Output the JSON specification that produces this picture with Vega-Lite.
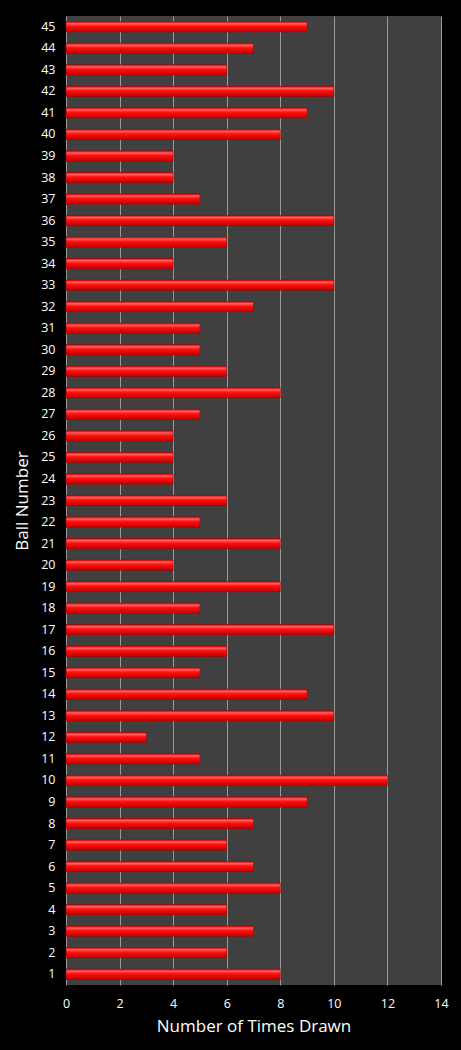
{
  "$schema": "https://vega.github.io/schema/vega-lite/v6.json",
  "autosize": {"type": "none"},
  "padding": {"left": 66, "top": 16, "right": 20, "bottom": 65},
  "width": 375,
  "height": 969,
  "background": "#000000",
  "config": {
    "font": "Open Sans",
    "view": {"fill": "#404040", "stroke": null},
    "axisX": {
      "grid": true,
      "gridColor": "#9a9a9a",
      "gridWidth": 1,
      "domain": false,
      "ticks": false,
      "labelColor": "#ffffff",
      "labelFontSize": 12.5,
      "labelPadding": 12,
      "labelFlush": false,
      "titleColor": "#ffffff",
      "titleFontSize": 17,
      "titleFontWeight": "normal",
      "titlePadding": 9
    },
    "axisY": {
      "grid": false,
      "domain": false,
      "ticks": false,
      "labelColor": "#ffffff",
      "labelFontSize": 12.5,
      "labelPadding": 11,
      "titleColor": "#ffffff",
      "titleFontSize": 17,
      "titleFontWeight": "normal",
      "titlePadding": 9
    }
  },
  "data": {
    "values": [
      {"ball": 1, "times": 8}, {"ball": 2, "times": 6}, {"ball": 3, "times": 7},
      {"ball": 4, "times": 6}, {"ball": 5, "times": 8}, {"ball": 6, "times": 7},
      {"ball": 7, "times": 6}, {"ball": 8, "times": 7}, {"ball": 9, "times": 9},
      {"ball": 10, "times": 12}, {"ball": 11, "times": 5}, {"ball": 12, "times": 3},
      {"ball": 13, "times": 10}, {"ball": 14, "times": 9}, {"ball": 15, "times": 5},
      {"ball": 16, "times": 6}, {"ball": 17, "times": 10}, {"ball": 18, "times": 5},
      {"ball": 19, "times": 8}, {"ball": 20, "times": 4}, {"ball": 21, "times": 8},
      {"ball": 22, "times": 5}, {"ball": 23, "times": 6}, {"ball": 24, "times": 4},
      {"ball": 25, "times": 4}, {"ball": 26, "times": 4}, {"ball": 27, "times": 5},
      {"ball": 28, "times": 8}, {"ball": 29, "times": 6}, {"ball": 30, "times": 5},
      {"ball": 31, "times": 5}, {"ball": 32, "times": 7}, {"ball": 33, "times": 10},
      {"ball": 34, "times": 4}, {"ball": 35, "times": 6}, {"ball": 36, "times": 10},
      {"ball": 37, "times": 5}, {"ball": 38, "times": 4}, {"ball": 39, "times": 4},
      {"ball": 40, "times": 8}, {"ball": 41, "times": 9}, {"ball": 42, "times": 10},
      {"ball": 43, "times": 6}, {"ball": 44, "times": 7}, {"ball": 45, "times": 9}
    ]
  },
  "mark": {
    "type": "bar",
    "color": {
      "gradient": "linear",
      "x1": 0, "y1": 0, "x2": 0, "y2": 1,
      "stops": [
        {"offset": 0, "color": "#d00000"},
        {"offset": 0.2, "color": "#ff6060"},
        {"offset": 0.45, "color": "#ff1010"},
        {"offset": 1, "color": "#c00000"}
      ]
    },
    "stroke": "#a00000",
    "strokeWidth": 0.5
  },
  "encoding": {
    "y": {
      "field": "ball",
      "type": "ordinal",
      "sort": "descending",
      "title": "Ball Number",
      "scale": {"paddingInner": 0.52, "paddingOuter": 0.26}
    },
    "x": {
      "field": "times",
      "type": "quantitative",
      "title": "Number of Times Drawn",
      "scale": {"domain": [0, 14], "nice": false},
      "axis": {"values": [0, 2, 4, 6, 8, 10, 12, 14]}
    }
  }
}
